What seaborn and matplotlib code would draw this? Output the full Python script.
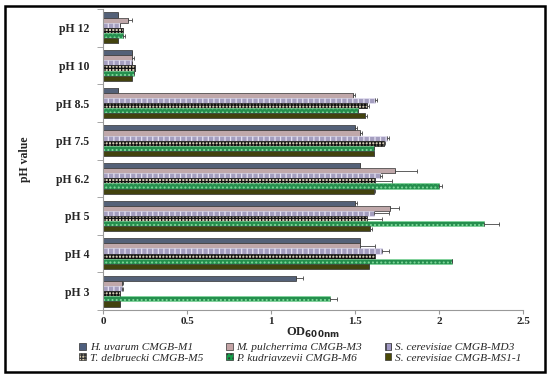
import numpy as np
import pandas as pd
import matplotlib
matplotlib.use("Agg")
import matplotlib.pyplot as plt
import matplotlib.patches as mpatches
import seaborn as sns

ph_levels = ["pH 12", "pH 10", "pH 8.5", "pH 7.5", "pH 6.2", "pH 5", "pH 4", "pH 3"]
strains = ["H. uvarum CMGB-M1", "M. pulcherrima CMGB-M3", "S. cerevisiae CMGB-MD3",
           "T. delbruecki CMGB-M5", "P. kudriavzevii CMGB-M6", "S. cerevisiae CMGB-MS1-1"]

h_uvarum = [0.09, 0.17, 0.09, 1.50, 1.53, 1.50, 1.53, 1.15]
h_uvarum_err = [0.0, 0.0, 0.0, 0.01, 0.0, 0.01, 0.0, 0.04]
m_pulch = [0.15, 0.17, 1.49, 1.53, 1.74, 1.71, 1.53, 0.11]
m_pulch_err = [0.02, 0.01, 0.01, 0.01, 0.13, 0.05, 0.09, 0.01]
s_md3 = [0.10, 0.17, 1.62, 1.69, 1.65, 1.61, 1.66, 0.11]
s_md3_err = [0.0, 0.0, 0.01, 0.01, 0.01, 0.09, 0.04, 0.01]
t_delb = [0.12, 0.19, 1.57, 1.67, 1.62, 1.57, 1.62, 0.10]
t_delb_err = [0.0, 0.0, 0.01, 0.01, 0.10, 0.09, 0.0, 0.0]
p_kud = [0.12, 0.18, 1.52, 1.61, 2.00, 2.27, 2.08, 1.35]
p_kud_err = [0.01, 0.0, 0.0, 0.0, 0.02, 0.09, 0.0, 0.04]
s_ms1 = [0.09, 0.17, 1.56, 1.61, 1.61, 1.59, 1.58, 0.10]
s_ms1_err = [0.0, 0.0, 0.01, 0.0, 0.01, 0.01, 0.0, 0.0]

values = [h_uvarum, m_pulch, s_md3, t_delb, p_kud, s_ms1]
errors = [h_uvarum_err, m_pulch_err, s_md3_err, t_delb_err, p_kud_err, s_ms1_err]

rows = []
for s, vals in zip(strains, values):
    for p, v in zip(ph_levels, vals):
        rows.append({"pH": p, "OD": v, "strain": s})
df = pd.DataFrame(rows)

colors = ["#4E5F7E", "#C4A4A6", "#A199C4", "#D8CCAE", "#14A04A", "#4B4A05"]
hatches = [None, None, "|||", "+++++", "....", None]
hatchcols = [None, None, "#E6E2F4", "#111111", "#7FD89A", None]

sns.set_style("white")
plt.rcParams["font.family"] = ["Liberation Serif", "DejaVu Serif"]
plt.rcParams["hatch.linewidth"] = 0.9

fig = plt.figure(figsize=(5.5, 3.75), dpi=100)
ax_left, ax_right, ax_top, ax_bot = 103.3, 523, 9, 310
ax = fig.add_axes([ax_left / 550, 1 - ax_bot / 375, (ax_right - ax_left) / 550, (ax_bot - ax_top) / 375])

sns.barplot(data=df, y="pH", x="OD", hue="strain", order=ph_levels, hue_order=strains,
            palette=colors, orient="h", width=0.82, errorbar=None, legend=False,
            edgecolor="#333333", linewidth=0.5, ax=ax)

bar_containers = list(ax.containers)
for i, cont in enumerate(bar_containers):
    ys, xs = [], []
    for bar in cont:
        if hatches[i]:
            bar.set_hatch(hatches[i])
            try:
                bar.set_hatchcolor(hatchcols[i])
            except Exception:
                bar.set_edgecolor(hatchcols[i])
        ys.append(bar.get_y() + bar.get_height() / 2)
        xs.append(bar.get_width())
    err = np.array(errors[i])
    ax.errorbar(xs, ys, xerr=[np.zeros_like(err), err], fmt="none", ecolor="#444444",
                elinewidth=0.6, capsize=1.5, capthick=0.6)

ax.set_xlim(0, 2.5)
ax.set_ylim(len(ph_levels) - 0.5, -0.5)
ax.set_xticks([0, 0.5, 1, 1.5, 2, 2.5])
ax.set_xticklabels(["0", "0.5", "1", "1.5", "2", "2.5"], fontweight="bold", fontsize=8)
ax.set_yticks(range(len(ph_levels)))
ax.set_yticklabels(ph_levels, fontweight="bold", fontsize=8.5)
ax.set_yticks(np.arange(-0.5, len(ph_levels), 1), minor=True)
ax.tick_params(axis="y", which="major", length=0, pad=10)
ax.tick_params(axis="y", which="minor", length=4, color="#999999", direction="out", left=True)
ax.tick_params(axis="x", which="major", length=3, color="#999999", direction="out", bottom=True, pad=2)
for sp in ["top", "right"]:
    ax.spines[sp].set_visible(False)
for sp in ["left", "bottom"]:
    ax.spines[sp].set_color("#999999")
    ax.spines[sp].set_linewidth(0.8)

ax.set_xlabel("OD$_{\\mathbf{600nm}}$", fontweight="bold", fontsize=9, labelpad=0)
ax.set_ylabel("pH value", fontweight="bold", fontsize=8.5, labelpad=18)

handles = []
for i, s in enumerate(strains):
    p = mpatches.Patch(facecolor=colors[i], edgecolor="#333333", linewidth=0.5,
                       hatch=hatches[i], label=s)
    handles.append(p)
order_idx = [0, 3, 1, 4, 2, 5]
leg = fig.legend([handles[k] for k in order_idx], [strains[k] for k in order_idx],
                 ncol=3, loc="upper center", bbox_to_anchor=(0.546, 1 - 337 / 375), frameon=False,
                 prop={"style": "italic", "size": 8.2, "family": "Liberation Serif"},
                 handlelength=0.6, handleheight=0.6, handletextpad=0.3, borderpad=0,
                 columnspacing=2.0, labelspacing=0.08)

frame = mpatches.Rectangle((5 / 550, 1 - 372 / 375), 540 / 550, 366 / 375,
                           transform=fig.transFigure, fill=False, edgecolor="black",
                           linewidth=1.8)
fig.patches.append(frame)

fig.savefig("out.png", dpi=100)
